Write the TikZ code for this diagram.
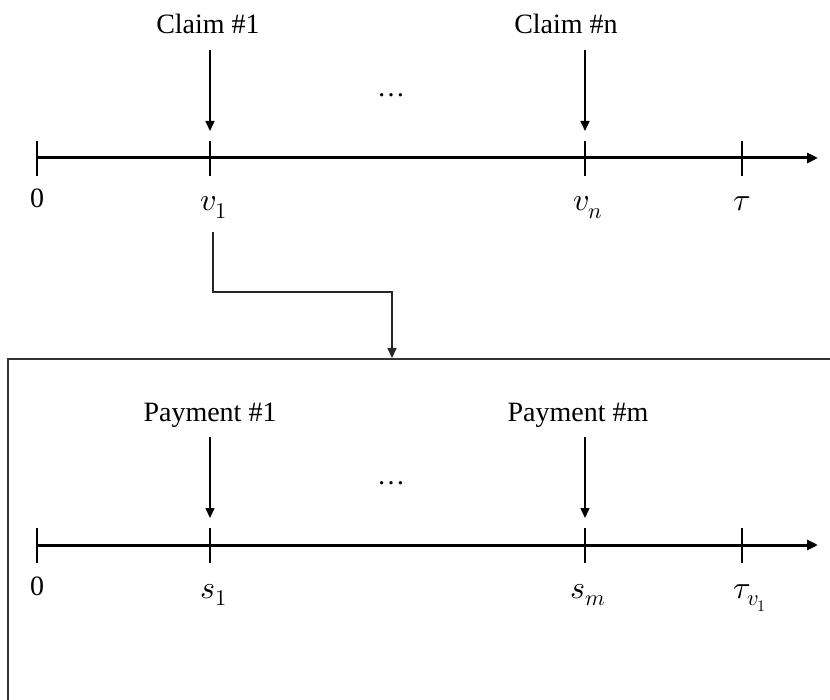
\documentclass[tikz,border=0pt]{standalone}
\usepackage{unicode-math}
\setmainfont{Liberation Serif}
\setmathfont{Latin Modern Math}
\usetikzlibrary{arrows.meta}
\begin{document}
\begin{tikzpicture}[x=1pt,y=-1pt,
  axis/.style={line width=3pt,-{Triangle[length=11pt,width=10pt]}},
  tickmark/.style={line width=1.6pt},
  arr/.style={line width=1.5pt,-{Triangle[length=10pt,width=9pt]}},
  lbl/.style={font=\fontsize{28}{34}\selectfont,anchor=base,inner sep=0pt},
  mlbl/.style={font=\fontsize{32}{38}\selectfont,anchor=base,inner sep=0pt},
  boxline/.style={line width=1.6pt,draw=black!80},
]
\useasboundingbox (0,0) rectangle (830,700);

% ---------- top timeline ----------
\coordinate (a0) at (37,158);
\coordinate (aend) at (818,158);
\draw[axis] (a0) -- (aend);
\foreach \n/\x in {t0/37,t1/210,tn/585,tt/742}{
  \coordinate (\n) at (\x,158);
  \draw[tickmark] ([yshift=-18pt]\n) -- ([yshift=17pt]\n);
}
\node[lbl] (z0) at (37,208) {0};
\node[mlbl] (v1) at (214,211) {$v_1$};
\node[mlbl] (vn) at (588,211) {$v_n$};
\node[mlbl] (tau) at (742,211) {$\tau$};

\node[lbl] (c1) at (208,34) {Claim \#1};
\node[lbl] (cn) at (566,34) {Claim \#n};
\node[lbl] (d1) at (391,97) {…};
\coordinate (c1s) at (210,50);
\coordinate (c1e) at (210,131);
\coordinate (cns) at (585,50);
\coordinate (cne) at (585,131);
\draw[arr] (c1s) -- (c1e);
\draw[arr] (cns) -- (cne);

% ---------- connector ----------
\coordinate (k0) at (213,232);
\coordinate (boxtop) at (392,358);
\draw[line width=1.6pt,draw=black!85,-{Triangle[length=10pt,width=9pt]}]
  (k0) |- (392,292) -- (boxtop);

% ---------- box ----------
\coordinate (bl) at (8,700);
\coordinate (tl) at (8,359);
\coordinate (tr) at (830,359);
\draw[boxline] (bl) -- (tl) -- (tr);

% ---------- bottom timeline ----------
\coordinate (b0) at (37,545);
\coordinate (bend) at (818,545);
\draw[axis] (b0) -- (bend);
\foreach \n/\x in {u0/37,u1/210,um/585,ut/742}{
  \coordinate (\n) at (\x,545);
  \draw[tickmark] ([yshift=-18pt]\n) -- ([yshift=17pt]\n);
}
\node[lbl] (w0) at (37,595) {0};
\node[mlbl] (s1) at (214,598) {$s_1$};
\node[mlbl] (sm) at (588,598) {$s_m$};
\node[mlbl] (tauv) at (750,598) {$\tau_{v_1}$};

\node[lbl] (p1) at (210,421) {Payment \#1};
\node[lbl] (pm) at (578,421) {Payment \#m};
\node[lbl] (d2) at (391,484) {…};
\coordinate (p1s) at (210,437);
\coordinate (p1e) at (210,518);
\coordinate (pms) at (585,437);
\coordinate (pme) at (585,518);
\draw[arr] (p1s) -- (p1e);
\draw[arr] (pms) -- (pme);
\end{tikzpicture}
\end{document}
